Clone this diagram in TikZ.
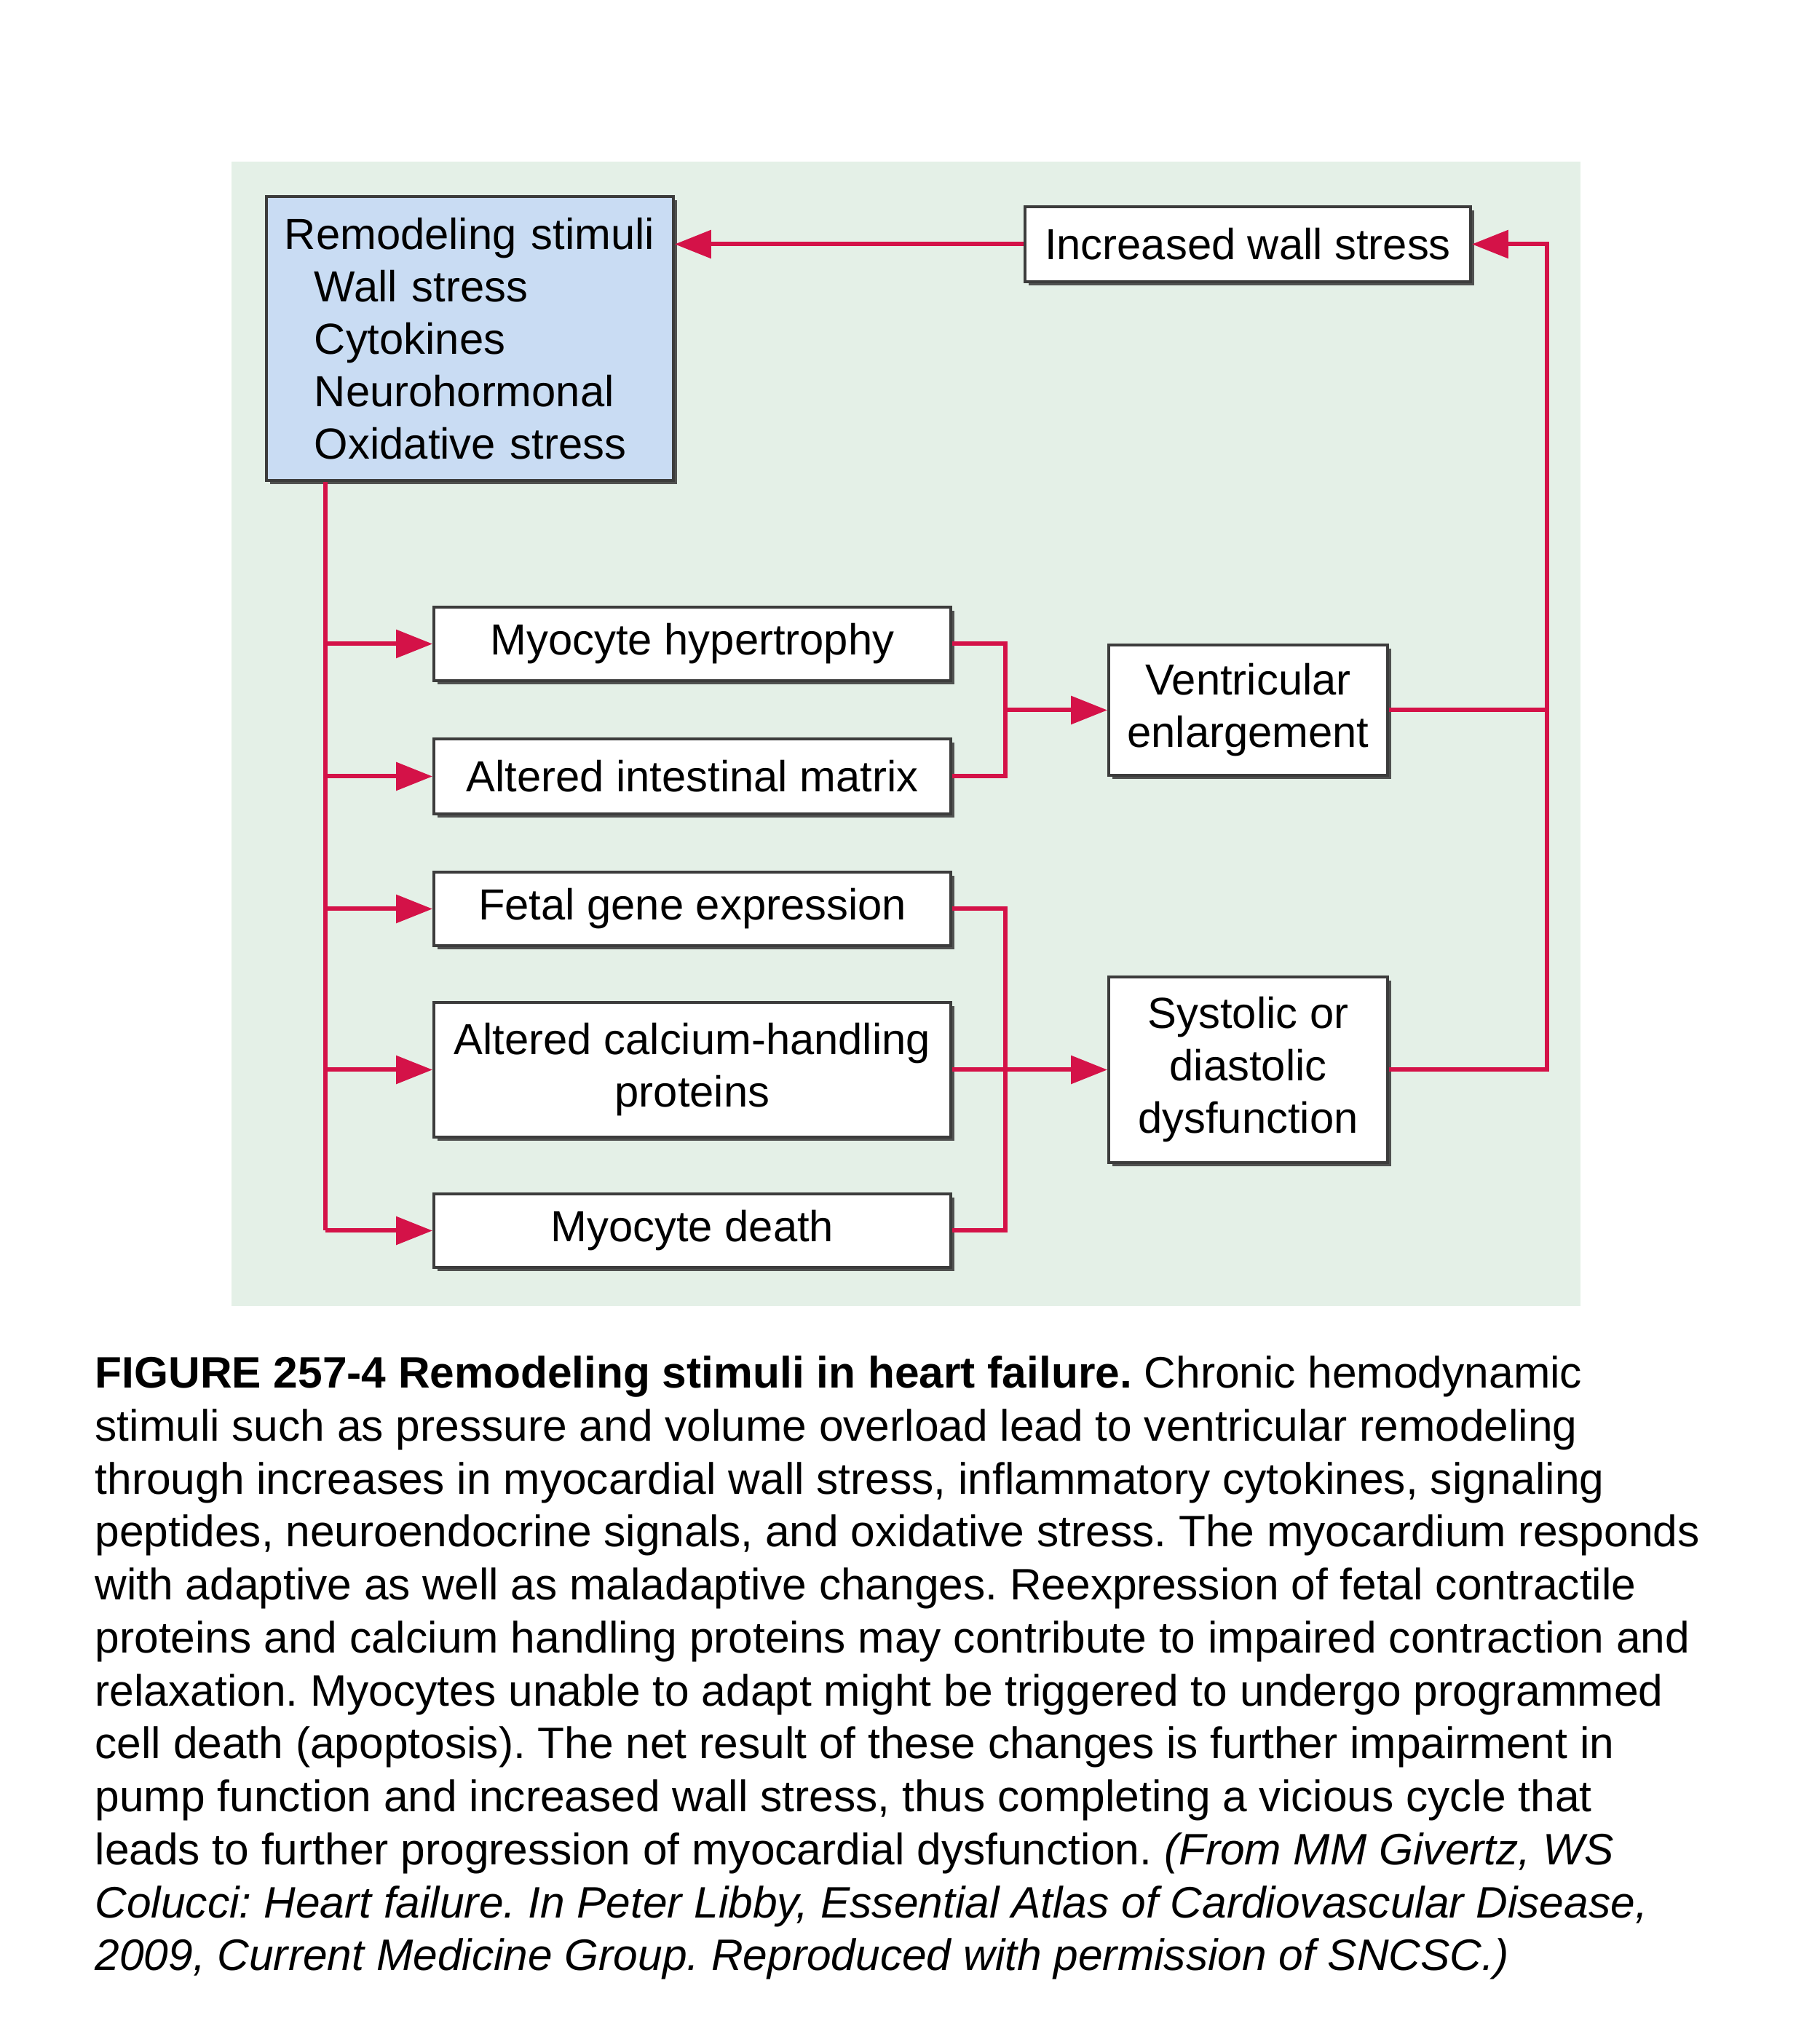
\documentclass[tikz,border=0pt]{standalone}
\usepackage{fontspec}
\setmainfont{Liberation Sans}
\usepackage{xcolor}
\usepackage{tikz}
\usetikzlibrary{arrows.meta,positioning,shadows}
\frenchspacing

\definecolor{panelgreen}{RGB}{228,240,231}
\definecolor{stimblue}{RGB}{201,220,243}
\definecolor{linkred}{RGB}{212,18,72}
\definecolor{edgegray}{RGB}{60,60,60}

\begin{document}
\begin{tikzpicture}[x=1cm,y=1cm,
    box/.style={draw=edgegray,line width=1.1pt,fill=white,align=center,
      inner sep=0pt,font=\fontsize{17}{20.5}\selectfont,
      drop shadow={shadow xshift=0.05cm,shadow yshift=-0.05cm,fill=black!75,opacity=0.9}},
    link/.style={draw=linkred,line width=1.7pt},
    arr/.style={link,-{Triangle[length=0.5cm,width=0.38cm]}}]
  \useasboundingbox (0,0) rectangle (24.99,27.83);
  % panel
  \fill[panelgreen] (3.18,9.89) rectangle (21.71,25.61);
  % boxes
  \node[box,fill=stimblue,anchor=north west,align=left,text width=5.09cm,
    inner xsep=0.25cm,minimum height=3.9cm] (stim) at (3.64,25.15)
    {Remodeling stimuli\\ \hspace*{0.41cm}Wall stress\\ \hspace*{0.41cm}Cytokines\\
     \hspace*{0.41cm}Neurohormonal\\ \hspace*{0.41cm}Oxidative stress};
  \node[box,minimum width=6.12cm,minimum height=1.03cm] (iws) at (17.14,24.475)
    {Increased wall stress};
  \node[box,minimum width=7.10cm,minimum height=1.01cm] (hyp) at (9.51,18.985)
    {Myocyte hypertrophy};
  \node[box,minimum width=7.10cm,minimum height=1.03cm] (mat) at (9.51,17.165)
    {Altered intestinal matrix};
  \node[box,minimum width=7.10cm,minimum height=1.01cm] (fet) at (9.51,15.345)
    {Fetal gene expression};
  \node[box,minimum width=7.10cm,minimum height=1.85cm] (cal) at (9.51,13.135)
    {Altered calcium-handling\\proteins};
  \node[box,minimum width=7.10cm,minimum height=1.01cm] (dea) at (9.51,10.925)
    {Myocyte death};
  \node[box,minimum width=3.83cm,minimum height=1.79cm] (ven) at (17.145,18.075)
    {Ventricular\\enlargement};
  \node[box,minimum width=3.83cm,minimum height=2.55cm] (dys) at (17.145,13.135)
    {Systolic or\\diastolic\\dysfunction};
  % trunk lines
  \coordinate (lx) at (4.47,0);
  \coordinate (mx) at (13.81,0);
  \coordinate (rx) at (21.25,0);
  \draw[link] (lx |- stim.south) -- (lx |- dea.west);
  \foreach \n in {hyp,mat,fet,cal,dea}
    \draw[arr] (lx |- \n.west) -- (\n.west);
  \draw[link] (hyp.east) -- (mx |- hyp.east) -- (mx |- mat.east) -- (mat.east);
  \draw[arr] (mx |- ven.west) -- (ven.west);
  \draw[link] (fet.east) -- (mx |- fet.east) -- (mx |- dea.east) -- (dea.east);
  \draw[arr] (cal.east) -- (dys.west);
  \draw[arr] (dys.east) -- (rx |- dys.east) -- (rx |- iws.east) -- (iws.east);
  \draw[link] (ven.east) -- (rx |- ven.east);
  \draw[arr] (iws.west) -- (stim.east |- iws.west);
  % caption
  \node[anchor=north west,align=left,inner sep=0pt,
    font=\fontsize{17.2}{20.7}\selectfont] (cap) at (1.30,9.21)
    {\textbf{FIGURE 257-4 Remodeling stimuli in heart failure.} Chronic hemodynamic\\
     stimuli such as pressure and volume overload lead to ventricular remodeling\\
     through increases in myocardial wall stress, inflammatory cytokines, signaling\\
     peptides, neuroendocrine signals, and oxidative stress. The myocardium responds\\
     with adaptive as well as maladaptive changes. Reexpression of fetal contractile\\
     proteins and calcium handling proteins may contribute to impaired contraction and\\
     relaxation. Myocytes unable to adapt might be triggered to undergo programmed\\
     cell death (apoptosis). The net result of these changes is further impairment in\\
     pump function and increased wall stress, thus completing a vicious cycle that\\
     leads to further progression of myocardial dysfunction. \textit{(From MM Givertz, WS}\\
     \textit{Colucci: Heart failure. In Peter Libby, Essential Atlas of Cardiovascular Disease,}\\
     \textit{2009, Current Medicine Group. Reproduced with permission of SNCSC.)}};
\end{tikzpicture}
\end{document}
